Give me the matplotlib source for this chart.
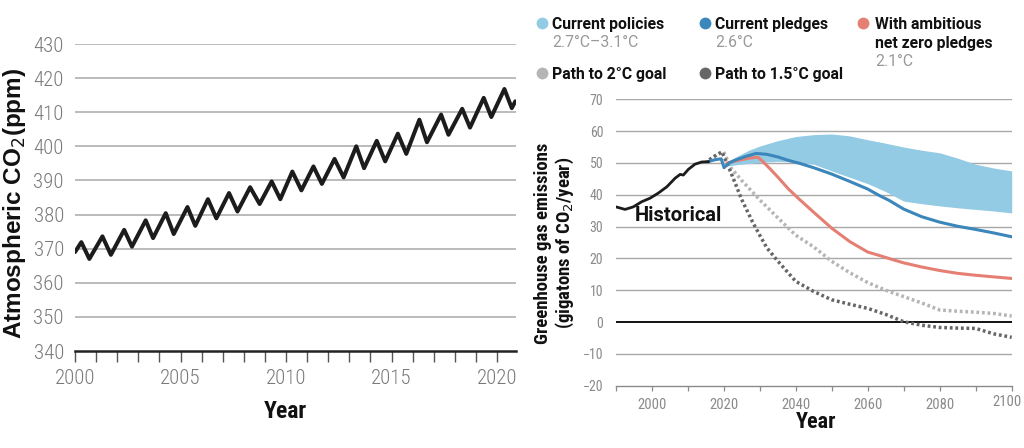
import matplotlib
matplotlib.use("Agg")
import matplotlib.pyplot as plt
from matplotlib.lines import Line2D
from matplotlib.ticker import MultipleLocator
from matplotlib.transforms import offset_copy

# ---------------- data: atmospheric CO2 (ppm), seasonal turning points ----------------
co2_year = [2000.0, 2000.3, 2000.68, 2001.3, 2001.7, 2002.33, 2002.7, 2003.35, 2003.7,
            2004.3, 2004.68, 2005.33, 2005.7, 2006.3, 2006.7, 2007.3, 2007.7, 2008.3,
            2008.75, 2009.32, 2009.73, 2010.3, 2010.73, 2011.3, 2011.7, 2012.3, 2012.73,
            2013.33, 2013.7, 2014.3, 2014.7, 2015.3, 2015.7, 2016.32, 2016.68, 2017.35,
            2017.7, 2018.35, 2018.72, 2019.37, 2019.73, 2020.35, 2020.7, 2020.87]
co2_ppm = [369.0, 371.9, 367.0, 373.6, 368.2, 375.5, 370.6, 378.3, 373.1,
           380.4, 374.3, 382.2, 376.7, 384.5, 378.9, 386.3, 380.9, 388.0,
           383.1, 389.7, 384.5, 392.6, 387.1, 394.1, 389.0, 396.3, 390.9,
           400.0, 393.6, 401.6, 395.6, 403.7, 397.8, 407.8, 401.2, 409.3,
           403.4, 411.0, 405.5, 414.2, 408.6, 416.8, 411.2, 413.2]
co2_yticks = [340, 350, 360, 370, 380, 390, 400, 410, 420, 430]
co2_xticks = [2000, 2005, 2010, 2015, 2020]

# ---------------- data: greenhouse gas emissions (Gt CO2 / year) ----------------
hist_year = [1990, 1990.7, 1992.6, 1994.9, 1997.2, 1999.5, 2001.8, 2004.2, 2006.5,
             2007.9, 2008.8, 2010.2, 2012.0, 2013.9, 2015.7]
hist_val = [36.2, 36.0, 35.4, 36.2, 37.8, 38.9, 40.5, 42.5, 45.2,
            46.4, 46.2, 48.0, 49.6, 50.3, 50.4]

pledge_year = [2015.7, 2017.5, 2019.3, 2020.1, 2021.5, 2023, 2026, 2029, 2032, 2035,
               2038, 2041, 2045, 2050, 2055, 2060, 2063, 2066, 2070, 2075, 2080, 2085,
               2090, 2095, 2100]
pledge_val = [50.4, 51.0, 51.3, 48.5, 50.0, 50.8, 52.0, 53.0, 52.7, 51.9,
              50.8, 49.9, 48.5, 46.5, 44.2, 41.8, 39.9, 38.2, 35.5, 33.1, 31.4, 30.1,
              29.1, 28.0, 26.8]

policy_year = [2020.5, 2024, 2027, 2030, 2035, 2040, 2045, 2050, 2055, 2060, 2065,
               2070, 2075, 2080, 2085, 2090, 2095, 2100]
policy_high = [50.0, 52.3, 54.0, 55.3, 57.0, 58.3, 58.9, 59.1, 58.5, 57.3, 56.2,
               55.0, 54.0, 53.2, 51.5, 49.6, 48.4, 47.5]
policy_low = [49.0, 49.5, 49.8, 50.2, 50.5, 50.3, 49.6, 47.5, 45.5, 43.5, 41.0,
              38.0, 37.2, 36.5, 35.9, 35.4, 34.9, 34.3]

netzero_year = [2021, 2024, 2027, 2029.5, 2031, 2033, 2035, 2038, 2041, 2045, 2050,
                2055, 2060, 2063, 2067, 2070, 2075, 2080, 2085, 2090, 2095, 2100]
netzero_val = [50.0, 50.8, 51.5, 51.8, 50.3, 48.0, 45.6, 41.8, 38.6, 34.5, 29.5,
               25.3, 22.0, 21.0, 19.6, 18.6, 17.3, 16.2, 15.3, 14.7, 14.2, 13.7]

path2_year = [2016, 2018, 2020, 2022, 2025, 2030, 2035, 2040, 2045, 2050, 2055,
              2060, 2065, 2070, 2075, 2080, 2085, 2090, 2095, 2100]
path2_val = [51.0, 52.5, 53.5, 48.5, 44.5, 38.4, 32.8, 27.3, 23.6, 19.1, 15.5,
             12.4, 10.0, 8.0, 6.0, 3.8, 3.4, 3.1, 2.7, 1.9]

path15_year = [2016, 2018, 2019.5, 2022, 2025, 2028, 2030, 2032, 2035, 2040, 2045,
               2050, 2055, 2060, 2065, 2070, 2075, 2080, 2085, 2090, 2095, 2100]
path15_val = [51.0, 52.5, 53.5, 47.0, 38.5, 31.5, 27.3, 23.3, 19.2, 12.8, 9.6,
              7.0, 5.6, 4.3, 2.4, 0.1, -1.0, -1.7, -1.9, -2.0, -3.7, -4.8]

ghg_yticks = [-20, -10, 0, 10, 20, 30, 40, 50, 60, 70]
ghg_xticks = [2000, 2020, 2040, 2060, 2080, 2100]

legend_labels = [["Current policies"], ["Current pledges"],
                 ["With ambitious", "net zero pledges"],
                 ["Path to 2°C goal"], ["Path to 1.5°C goal"]]
legend_subs = ["2.7°C–3.1°C", "2.6°C", "2.1°C", "", ""]

# ---------------- style ----------------
COND = ['Roboto Condensed', 'Roboto', 'DejaVu Sans']
ROBOTO = ['Roboto', 'DejaVu Sans']
C_BAND = '#93cbe5'
C_PLEDGE = '#3b86ba'
C_RED = '#e57f74'
C_LGRAY = '#b5b5b5'
C_DGRAY = '#666666'
C_GRID = '#a8a8a8'

W, H = 1024, 448
fig = plt.figure(figsize=(W / 100, H / 100), dpi=100)


def rect(x0, y0, x1, y1):
    return [x0 / W, 1 - y1 / H, (x1 - x0) / W, (y1 - y0) / H]


# ---------------- left panel ----------------
ax1 = fig.add_axes(rect(75, 44, 516, 351))
ax1.plot(co2_year, co2_ppm, color='#1c1c1c', lw=2.9, solid_joinstyle='round',
         solid_capstyle='round', zorder=3)
ax1.set_xlim(2000, 2020.9)
ax1.set_ylim(340, 430)
ax1.set_yticks(co2_yticks)
ax1.set_xticks(co2_xticks)
ax1.xaxis.set_minor_locator(MultipleLocator(1))
for v in co2_yticks[1:]:
    ax1.axhline(v, color=C_GRID, lw=1.1, zorder=1)
for s in ['top', 'right', 'left']:
    ax1.spines[s].set_visible(False)
ax1.spines['bottom'].set_color('#222222')
ax1.spines['bottom'].set_linewidth(1.8)
ax1.tick_params(axis='y', length=0, pad=8, labelsize=15, labelcolor='#7a7a7a')
ax1.tick_params(axis='x', which='both', length=8, width=1.0, color='#555555',
                pad=5, labelsize=15, labelcolor='#7a7a7a')
for lbl in ax1.get_xticklabels() + ax1.get_yticklabels():
    lbl.set_family(COND)
    lbl.set_fontweight(300)
fig.text(15 / W, 1 - 203 / H, 'Atmospheric CO$_2$(ppm)', rotation=90, ha='center',
         va='center', fontsize=17.5, fontweight='bold',
         family=['Liberation Sans', 'DejaVu Sans'], color='#111111')
fig.text(285 / W, 1 - 412 / H, 'Year', ha='center', va='center', fontsize=17,
         fontweight='bold', family=COND, color='#111111')

# ---------------- right panel ----------------
ax2 = fig.add_axes(rect(615.7, 99.3, 1011.7, 385.7))
ax2.set_xlim(1990, 2100)
ax2.set_ylim(-20, 70)
for v in ghg_yticks[1:]:
    if v == 0:
        ax2.axhline(v, color='#111111', lw=1.4, zorder=2)
    else:
        ax2.axhline(v, color=C_GRID, lw=1.0, zorder=1)
ax2.fill_between(policy_year, policy_low, policy_high, color=C_BAND, lw=0, zorder=2)
ax2.plot(path2_year, path2_val, color=C_LGRAY, lw=2.5, linestyle=(0, (0.8, 0.8)), zorder=3)
ax2.plot(path15_year, path15_val, color=C_DGRAY, lw=2.5, linestyle=(0, (0.8, 0.8)), zorder=3)
ax2.plot(netzero_year, netzero_val, color=C_RED, lw=2.2, zorder=4)
ax2.plot(pledge_year, pledge_val, color=C_PLEDGE, lw=2.2, zorder=5)
ax2.plot(hist_year, hist_val, color='#1c1c1c', lw=2.0, zorder=6)
ax2.text(1995.2, 33.4, 'Historical', ha='left', va='center', fontsize=14.5,
         fontweight='bold', family=ROBOTO, color='#111111', zorder=7)
ax2.set_yticks(ghg_yticks)
ax2.set_xticks(ghg_xticks)
ax2.set_xticklabels([str(v) for v in ghg_xticks[:-1]] + [''])
ax2.xaxis.set_minor_locator(MultipleLocator(10))
for s in ['top', 'right', 'left']:
    ax2.spines[s].set_visible(False)
ax2.spines['bottom'].set_color('#8a8a8a')
ax2.spines['bottom'].set_linewidth(1.0)
ax2.tick_params(axis='y', length=0, pad=9, labelsize=10, labelcolor='#8a8a8a')
ax2.tick_params(axis='x', which='both', length=3.5, width=0.9, color='#8a8a8a',
                pad=5, labelsize=10.5, labelcolor='#8a8a8a')
for lbl in ax2.get_xticklabels() + ax2.get_yticklabels():
    lbl.set_family(COND)
# last year label pulled slightly left so it stays inside the figure
ax2.text(ghg_xticks[-1], 0, str(ghg_xticks[-1]), ha='right', va='top',
         fontsize=10.5, family=COND, color='#8a8a8a',
         transform=offset_copy(ax2.get_xaxis_transform(), fig=fig, x=10, y=-9, units='dots'))
fig.text(555 / W, 1 - 243 / H, 'Greenhouse gas emissions\n(gigatons of CO$_2$/year)',
         rotation=90, ha='center', va='center', ma='center', fontsize=13.5,
         fontweight='bold', family=COND, color='#111111', linespacing=1.1)
fig.text(816 / W, 1 - 422 / H, 'Year', ha='center', va='center', fontsize=16,
         fontweight='bold', family=COND, color='#111111')

# ---------------- legend ----------------
leg_colors = [C_BAND, C_PLEDGE, C_RED, C_LGRAY, C_DGRAY]
leg_dot_x = [541.7, 705, 863.3, 541.7, 705]
leg_txt_x = [552, 715, 875, 552, 715]
leg_y = [23, 23, 23, 73, 73]
for lines, sub, col, dx, tx, y in zip(legend_labels, legend_subs, leg_colors,
                                      leg_dot_x, leg_txt_x, leg_y):
    fig.add_artist(Line2D([dx / W], [1 - y / H], marker='o', markersize=8.5,
                          color=col, markeredgewidth=0, transform=fig.transFigure))
    for i, line in enumerate(lines):
        fig.text(tx / W, 1 - (y + 19 * i) / H, line, ha='left', va='center_baseline',
                 fontsize=11.3, fontweight='bold', family=ROBOTO, color='#111111')
    if sub:
        sy = y + 19 * len(lines)
        fig.text(tx / W, 1 - (sy - 1) / H, sub, ha='left', va='center_baseline',
                 fontsize=11.3, family=ROBOTO, color='#999999')

fig.savefig('out.png', dpi=100)
